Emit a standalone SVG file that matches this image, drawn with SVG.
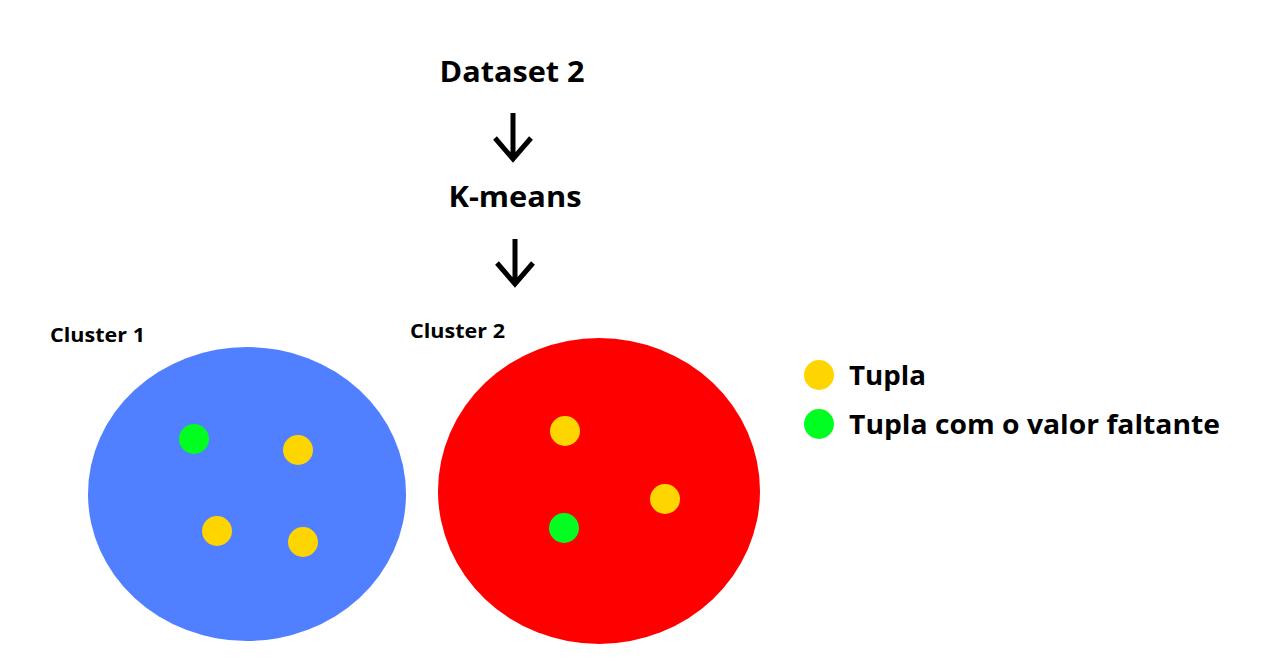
<svg xmlns="http://www.w3.org/2000/svg" width="1268" height="666" viewBox="0 0 1268 666">
<style>
.t{font-family:"Open Sans","Liberation Sans",sans-serif;font-weight:bold;fill:#000}
.y{fill:#FFD500}
.g{fill:#00FF21}
.a{stroke:#000;stroke-width:5;fill:none;stroke-linecap:butt}
</style>
<rect width="1268" height="666" fill="#fff"/>
<g id="dataset"><text class="t" x="512" y="82" font-size="28" text-anchor="middle" textLength="145" lengthAdjust="spacingAndGlyphs">Dataset 2</text></g>
<g id="kmeans"><text class="t" x="515" y="207" font-size="28" text-anchor="middle" textLength="133" lengthAdjust="spacingAndGlyphs">K-means</text></g>
<g id="connectors">
<path class="a" d="M513 113V158M495 138L513 159L531 138"/>
<path class="a" d="M515 239V283M497 263L515 284L533 263"/>
</g>
<g id="cluster1">
<text class="t" x="50" y="342" font-size="20" textLength="95" lengthAdjust="spacingAndGlyphs">Cluster 1</text>
<ellipse cx="247" cy="494" rx="159" ry="147" fill="#507FFF"/>
<circle class="g" cx="194" cy="439" r="15"/>
<circle class="y" cx="298" cy="450" r="15"/>
<circle class="y" cx="217" cy="531" r="15"/>
<circle class="y" cx="303" cy="542" r="15"/>
</g>
<g id="cluster2">
<text class="t" x="410" y="338" font-size="20" textLength="95" lengthAdjust="spacingAndGlyphs">Cluster 2</text>
<ellipse cx="599" cy="491" rx="161" ry="153" fill="#FF0000"/>
<circle class="y" cx="565" cy="431" r="15"/>
<circle class="y" cx="665" cy="499" r="15"/>
<circle class="g" cx="564" cy="528" r="15"/>
</g>
<g id="legend">
<circle class="y" cx="819" cy="375" r="15"/>
<text class="t" x="849" y="385" font-size="27" textLength="77" lengthAdjust="spacingAndGlyphs">Tupla</text>
<circle class="g" cx="819" cy="424" r="15"/>
<text class="t" x="849" y="434" font-size="27" textLength="371" lengthAdjust="spacingAndGlyphs">Tupla com o valor faltante</text>
</g>
</svg>
